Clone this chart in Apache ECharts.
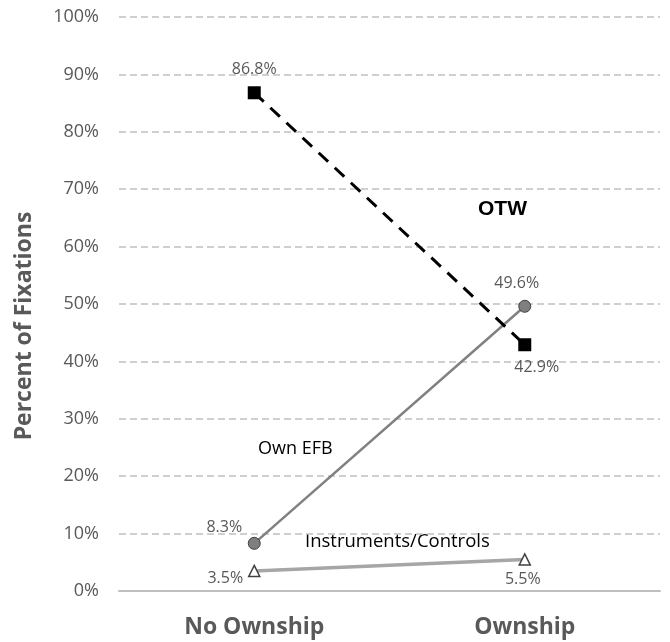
<!DOCTYPE html>
<html>
<head>
<meta charset="utf-8">
<script src="https://cdn.jsdelivr.net/npm/echarts@6/dist/echarts.min.js"></script>
<style>
  html, body { margin: 0; padding: 0; background: #fff; }
  #chart { width: 670px; height: 642px; }
</style>
</head>
<body>
<div id="chart"></div>
<script>
// Conditions on the x axis
const categories = ['No Ownship', 'Ownship'];

// Percent of fixations per area of interest
const otwValues = [86.8, 42.9];
const efbValues = [8.3, 49.6];
const instrumentValues = [3.5, 5.5];

// Y axis range and step (percent)
const yMin = 0;
const yMax = 100;
const yStep = 10;

const labelGray = '#595959';
const baseFont = '"Open Sans", sans-serif';

const chart = echarts.init(document.getElementById('chart'), null, { renderer: 'canvas' });

// Value label centred on its point, nudged by [dx, dy]
function pointLabel(dx, dy) {
  return {
    show: true,
    position: 'inside',
    offset: [dx, dy],
    color: labelGray,
    fontFamily: baseFont,
    fontSize: 16,
    formatter: p => p.value.toFixed(1) + '%'
  };
}

chart.setOption({
  animation: false,
  backgroundColor: '#ffffff',
  grid: { left: 119, right: 10, top: 17, bottom: 51, containLabel: false },
  xAxis: {
    type: 'category',
    data: categories,
    boundaryGap: true,
    axisLine: { show: true, lineStyle: { color: '#bfbfbf', width: 2 } },
    axisTick: { show: false },
    axisLabel: {
      color: labelGray,
      fontFamily: baseFont,
      fontWeight: 'bold',
      fontSize: 23,
      margin: 25
    },
    splitLine: { show: false }
  },
  yAxis: {
    type: 'value',
    min: yMin,
    max: yMax,
    interval: yStep,
    axisLine: { show: false },
    axisTick: { show: false },
    axisLabel: {
      color: labelGray,
      fontFamily: baseFont,
      fontSize: 18,
      margin: 20,
      formatter: v => v + '%'
    },
    splitLine: { show: true, lineStyle: { color: '#c0c0c0', type: [7, 4], width: 1.5 } }
  },
  series: [
    {
      name: 'OTW',
      type: 'line',
      data: [
        { value: otwValues[0], label: pointLabel(0, -23) },
        { value: otwValues[1], label: pointLabel(12, 23) }
      ],
      symbol: 'rect',
      symbolSize: 13,
      lineStyle: { color: '#000000', width: 3, type: [13, 9] },
      itemStyle: { color: '#000000' },
      z: 3
    },
    {
      name: 'Own EFB',
      type: 'line',
      data: [
        { value: efbValues[0], label: pointLabel(-30, -16) },
        { value: efbValues[1], label: pointLabel(-8, -23) }
      ],
      symbol: 'circle',
      symbolSize: 12,
      lineStyle: { color: '#808080', width: 2.5 },
      itemStyle: { color: '#7f7f7f', borderColor: '#404040', borderWidth: 1 },
      z: 2
    },
    {
      name: 'Instruments/Controls',
      type: 'line',
      data: [
        { value: instrumentValues[0], label: pointLabel(-29, 8) },
        { value: instrumentValues[1], label: pointLabel(-2, 20) }
      ],
      symbol: 'triangle',
      symbolSize: 11,
      lineStyle: { color: '#a6a6a6', width: 3.5 },
      itemStyle: { color: '#ffffff', borderColor: '#404040', borderWidth: 1.5 },
      z: 2
    }
  ],
  graphic: [
    {
      type: 'text', x: 24, y: 326, rotation: Math.PI / 2,
      style: {
        text: 'Percent of Fixations', fill: labelGray,
        font: 'bold 23px "Open Sans", sans-serif',
        align: 'center', verticalAlign: 'middle'
      }
    },
    {
      type: 'text', x: 478, y: 209,
      style: { text: 'OTW', fill: '#000', font: 'bold 21px "Liberation Sans", Arial, sans-serif', verticalAlign: 'middle' }
    },
    {
      type: 'text', x: 258, y: 449,
      style: { text: 'Own EFB', fill: '#000', font: '18px "Open Sans", sans-serif', verticalAlign: 'middle' }
    },
    {
      type: 'text', x: 305, y: 542,
      style: { text: 'Instruments/Controls', fill: '#000', font: '18.5px "Open Sans", sans-serif', verticalAlign: 'middle' }
    }
  ]
});
</script>
</body>
</html>
